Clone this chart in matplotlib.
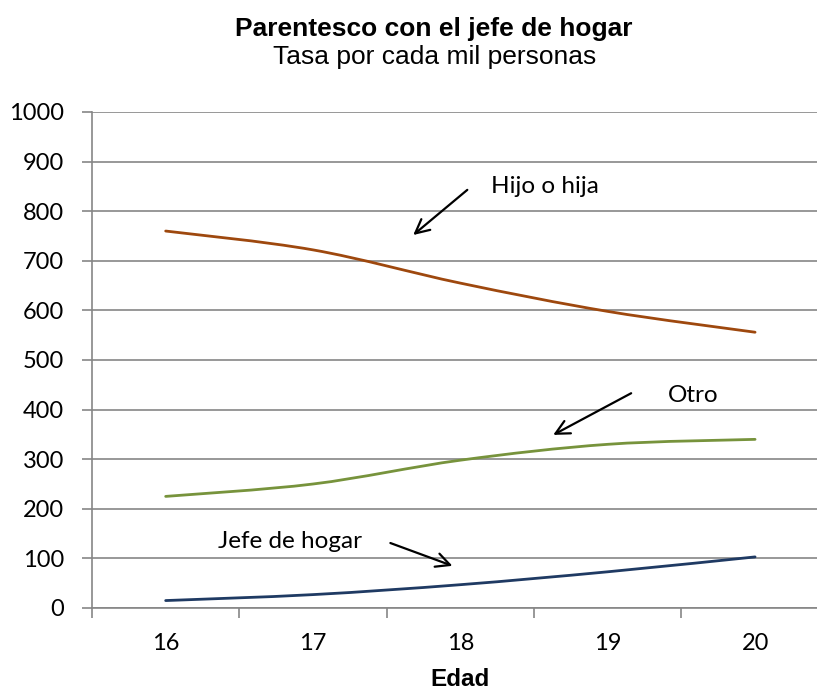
import numpy as np
import matplotlib
matplotlib.use("Agg")
import matplotlib.pyplot as plt
from matplotlib.path import Path
from matplotlib.patches import PathPatch

# datos
edades = [16, 17, 18, 19, 20]
hijo = [760, 722, 655, 598, 556]
otro = [225, 250, 298, 330, 340]
jefe = [15, 27, 47, 73, 103]

y_ticks = [0, 100, 200, 300, 400, 500, 600, 700, 800, 900, 1000]

colores = {"hijo": "#9E480E", "otro": "#77933C", "jefe": "#1F3A63"}
grid_color = "#868686"
tick_font = "Lato"


def smooth_path(xs, ys):
    """Curva suave tipo Excel (Catmull-Rom -> Bezier)"""
    pts = np.column_stack([xs, ys]).astype(float)
    verts = [pts[0]]
    codes = [Path.MOVETO]
    t = 1 / 6
    for i in range(len(pts) - 1):
        p0 = pts[i - 1] if i > 0 else pts[i]
        p1 = pts[i]
        p2 = pts[i + 1]
        p3 = pts[i + 2] if i + 2 < len(pts) else pts[i + 1]
        c1 = p1 + (p2 - p0) * t
        c2 = p2 - (p3 - p1) * t
        verts += [c1, c2, p2]
        codes += [Path.CURVE4] * 3
    return Path(verts, codes)


fig = plt.figure(figsize=(8.17, 6.91), dpi=100)
ax = fig.add_axes([92 / 817, 1 - 608 / 691, 736.75 / 817, 496 / 691])

ax.set_xlim(15.5, 20.5)
ax.set_ylim(0, 1000)

for serie, key in [(hijo, "hijo"), (otro, "otro"), (jefe, "jefe")]:
    patch = PathPatch(smooth_path(edades, serie), facecolor="none",
                      edgecolor=colores[key], lw=2.0, capstyle="round", zorder=3)
    ax.add_patch(patch)

ax.set_yticks(y_ticks)
ax.set_xticks(edades)
ax.set_xticks([15.5 + i for i in range(6)], minor=True)
ax.yaxis.grid(True, color=grid_color, lw=1.2)
ax.set_axisbelow(True)

for s in ["top", "right"]:
    ax.spines[s].set_visible(False)
for s in ["left", "bottom"]:
    ax.spines[s].set_color(grid_color)
    ax.spines[s].set_linewidth(1.2)

ax.tick_params(axis="y", length=7, width=1.2, color=grid_color, pad=13,
               labelsize=17)
ax.tick_params(axis="x", which="major", length=0, pad=18, labelsize=17)
ax.tick_params(axis="x", which="minor", length=7, width=1.2, color=grid_color)
for lab in ax.get_xticklabels() + ax.get_yticklabels():
    lab.set_fontfamily(tick_font)

ax.set_xlabel("Edad", fontsize=17.5, fontweight="bold", family="Liberation Sans",
              labelpad=10)

fig.text(434 / 817, 1 - 29 / 691, "Parentesco con el jefe de hogar", ha="center",
         va="center", fontsize=19, fontweight="bold", family="Liberation Sans")
fig.text(435 / 817, 1 - 57 / 691, "Tasa por cada mil personas", ha="center",
         va="center", fontsize=19, family="Liberation Sans")

flecha = dict(arrowstyle="->,head_length=1.0,head_width=0.5", color="black",
              lw=1.6, shrinkA=0, shrinkB=0)
ax.text(18.576, 849, "Hijo o hija", ha="center", va="center", fontsize=17.5,
        family=tick_font)
ax.annotate("", xy=(17.68, 752), xytext=(18.047, 843), arrowprops=flecha)
ax.text(19.578, 429, "Otro", ha="center", va="center", fontsize=17.5,
        family=tick_font)
ax.annotate("", xy=(18.63, 349), xytext=(19.159, 433), arrowprops=flecha)
ax.text(16.847, 135, "Jefe de hogar", ha="center", va="center", fontsize=17.5,
        family=tick_font)
ax.annotate("", xy=(17.946, 85), xytext=(17.525, 131), arrowprops=flecha)

fig.savefig("out.png", dpi=100)
